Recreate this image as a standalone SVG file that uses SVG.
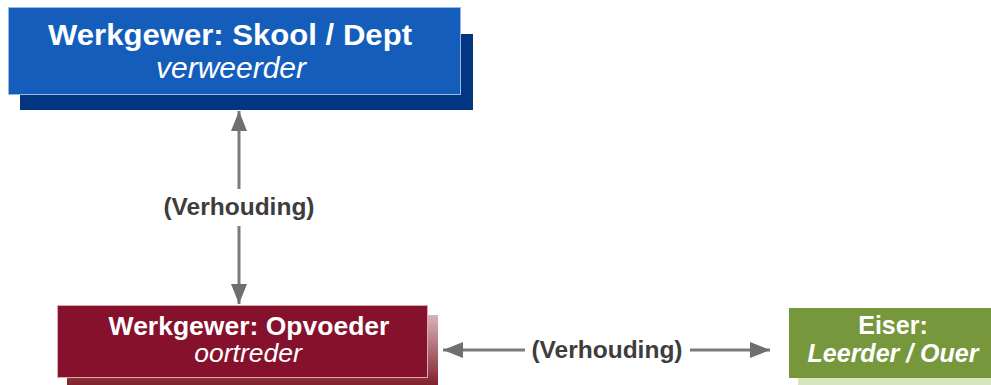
<svg xmlns="http://www.w3.org/2000/svg" width="991" height="385" viewBox="0 0 991 385">
<defs>
<linearGradient id="redShadow" x1="0" y1="0" x2="0" y2="1">
<stop offset="0" stop-color="#d9b3ba"/>
<stop offset="1" stop-color="#7a1822"/>
</linearGradient>
<marker id="ah" viewBox="0 0 20 16" refX="20" refY="8" markerWidth="20" markerHeight="16" markerUnits="userSpaceOnUse" orient="auto-start-reverse">
<path d="M0,0 L20,8 L0,16 Z" fill="#6e6f72"/>
</marker>
</defs>
<style>
.t{font-family:"Liberation Sans",Arial,sans-serif;fill:#ffffff;text-anchor:middle}
.b{font-weight:bold}
.i{font-style:italic}
.lbl{font-family:"Liberation Sans",Arial,sans-serif;font-weight:bold;fill:#3d3d3d;text-anchor:middle;font-size:24.5px}
.ln{stroke:#7b7b7d;stroke-width:3;fill:none}
</style>
<rect width="991" height="385" fill="#ffffff"/>
<g id="connectors">
<line class="ln" x1="239" y1="189" x2="239" y2="111" marker-end="url(#ah)"/>
<line class="ln" x1="239" y1="226" x2="239" y2="304" marker-end="url(#ah)"/>
<text class="lbl" x="239" y="215">(Verhouding)</text>
<line class="ln" x1="525" y1="350" x2="443" y2="350" marker-end="url(#ah)"/>
<line class="ln" x1="690" y1="350" x2="770" y2="350" marker-end="url(#ah)"/>
<text class="lbl" x="607" y="358">(Verhouding)</text>
</g>
<g id="employer-school">
<rect x="20" y="34" width="453" height="76" fill="#023582"/>
<rect x="8.5" y="7.5" width="452" height="87" fill="#145dba" stroke="#9ab8e6" stroke-width="1"/>
<text class="t b" x="230" y="45" font-size="30" textLength="364" lengthAdjust="spacingAndGlyphs">Werkgewer: Skool / Dept</text>
<text class="t i" x="231" y="78" font-size="30">verweerder</text>
</g>
<g id="employer-educator">
<rect x="67" y="315" width="371" height="75" fill="url(#redShadow)"/>
<rect x="57.5" y="305.5" width="370" height="72" fill="#86112d" stroke="#d9a9b3" stroke-width="1"/>
<text class="t b" x="249" y="335" font-size="26.5">Werkgewer: Opvoeder</text>
<text class="t i" x="248" y="362" font-size="26.5">oortreder</text>
</g>
<g id="claimant">
<rect x="798" y="316" width="200" height="75" fill="#d7e4be"/>
<rect x="789" y="308" width="210" height="70" fill="#77973d"/>
<text class="t b" x="893" y="334" font-size="25">Eiser:</text>
<text class="t b i" x="893" y="362" font-size="25">Leerder / Ouer</text>
</g>
</svg>
